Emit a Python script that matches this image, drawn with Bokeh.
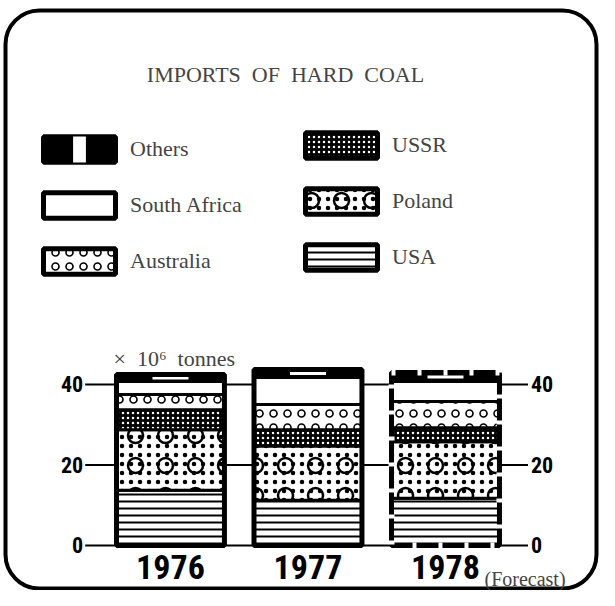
from bokeh.plotting import figure
from bokeh.models import (ColumnDataSource, Range1d, LinearAxis, FixedTicker, Legend,
                          LegendItem, Label, CDSView, BooleanFilter, BoxAnnotation)
from bokeh.transform import stack
from bokeh.embed import file_html
from bokeh.resources import INLINE

# ---------------- data (million tonnes) ----------------
years = ["1976", "1977", "1978"]
forecast = [False, False, True]
usa = [13.75, 11.25, 11.75]
poland = [15.0, 13.5, 14.0]
ussr = [5.0, 4.0, 3.5]
australia = [3.75, 6.25, 6.5]
south_africa = [3.25, 6.75, 5.0]
others = [1.75, 2.0, 2.25]
y_ticks = [0, 20, 40]
title_text = "IMPORTS\u2002OF\u2002HARD\u2002COAL"
unit_text = "\u00d7\u200210\u2076\u2002tonnes"
forecast_text = "(Forecast)"

layer_cols = ["usa", "poland", "ussr", "australia", "south_africa", "others"]
layer_names = {"usa": "USA", "poland": "Poland", "ussr": "USSR", "australia": "Australia",
               "south_africa": "South Africa", "others": "Others"}

# category slots: year i is centred at i + 0.5
xpos = [i + 0.5 for i in range(len(years))]
data = dict(x=xpos, year=years, usa=usa, poland=poland, ussr=ussr, australia=australia,
            south_africa=south_africa, others=others)
data["others_mid"] = [u + p + s + a + sa + o / 2 for u, p, s, a, sa, o in
                      zip(usa, poland, ussr, australia, south_africa, others)]
src = ColumnDataSource(data)

SERIF = "Liberation Serif"
NARROW = "Roboto Condensed"

LEFT_PAD = 0.62      # side scales' distance from the outer bar centres (slot units)
RIGHT_PAD = 0.60
W = 0.785            # bar width (slot units)

p = figure(x_range=Range1d(-0.736, 3.62), y_range=Range1d(-11.18, 135.4),
           width=599, height=590, output_backend="svg", toolbar_location=None,
           min_border=0, min_border_left=0, min_border_right=0,
           min_border_top=0, min_border_bottom=0,
           x_axis_location=None, y_axis_location=None)
p.background_fill_color = "white"
p.border_fill_color = "white"
p.outline_line_color = None
p.grid.grid_line_color = None

left_loc = xpos[0] - LEFT_PAD
right_loc = xpos[-1] + RIGHT_PAD

def style_axis(ax, size, standoff):
    ax.axis_line_color = None
    ax.major_tick_line_color = None
    ax.minor_tick_line_color = None
    ax.major_tick_out = 0
    ax.major_tick_in = 0
    ax.major_label_text_font = NARROW
    ax.major_label_text_font_style = "bold"
    ax.major_label_text_font_size = size
    ax.major_label_standoff = standoff
    ax.major_label_text_color = "black"

left_axis = LinearAxis(ticker=FixedTicker(ticks=y_ticks), fixed_location=left_loc)
style_axis(left_axis, "22px", 2)
p.add_layout(left_axis, "left")
right_axis = LinearAxis(ticker=FixedTicker(ticks=y_ticks), fixed_location=right_loc)
style_axis(right_axis, "22px", 3)
p.add_layout(right_axis, "right")
year_axis = LinearAxis(ticker=FixedTicker(ticks=xpos), fixed_location=0,
                       major_label_overrides={x: y for x, y in zip(xpos, years)})
style_axis(year_axis, "34px", 10)
p.add_layout(year_axis, "below")

# scale lines at the tick values (hidden behind the bars)
tick_src = ColumnDataSource(dict(y=y_ticks, x0=[left_loc] * len(y_ticks),
                                 x1=[right_loc] * len(y_ticks)))
p.segment(x0="x0", y0="y", x1="x1", y1="y", source=tick_src,
          line_color="black", line_width=2)

styles = {
    "usa": dict(fill_color="white", hatch_pattern="horizontal_line", hatch_color="black",
                hatch_scale=7, hatch_weight=2),
    "poland": dict(fill_color="white", hatch_pattern="ring", hatch_color="black",
                   hatch_scale=30, hatch_weight=2.5),
    "ussr": dict(fill_color="black", hatch_pattern="dot", hatch_color="white",
                 hatch_scale=5, hatch_weight=1.5),
    "australia": dict(fill_color="white", hatch_pattern="ring", hatch_color="black",
                      hatch_scale=14, hatch_weight=1.6),
    "south_africa": dict(fill_color="white"),
    "others": dict(fill_color="black"),
}

renderers = {}
for i, col in enumerate(layer_cols):
    bottom = stack(*layer_cols[:i]) if i else 0
    top = stack(*layer_cols[:i + 1])
    r = p.vbar(x="x", width=W, bottom=bottom, top=top, source=src,
               line_color="black", line_width=3, **styles[col])
    renderers[col] = [r]
    if col == "poland":
        r2 = p.vbar(x="x", width=W, bottom=bottom, top=top, source=src,
                    fill_alpha=0, line_color=None, hatch_pattern="dot",
                    hatch_color="black", hatch_scale=9, hatch_weight=1)
        renderers[col].append(r2)

# white slit in the "Others" band
p.scatter(x="x", y="others_mid", source=src, marker="dash", size=36,
          line_color="white", line_width=3)

# heavy outline of each bar; broken outline for the forecast year
fc_view = CDSView(filter=BooleanFilter(forecast))
outline = p.vbar(x="x", width=W, bottom=0, top=stack(*layer_cols), source=src,
                 fill_color=None, line_color="black", line_width=5)
p.vbar(x="x", width=W, bottom=0, top=stack(*layer_cols), source=src, view=fc_view,
       fill_color=None, line_color="white", line_width=6, line_dash="4 22")

# upright white bar used only in the "Others" legend key (short, very thick dash)
key_bar = p.scatter(x="x", y="others_mid", source=src, marker="dash",
                    size=10, line_color="white", line_width=26, line_cap="butt",
                    visible=False)

# legends (two columns)
extra = {"others": [key_bar]}

def make_legend(cols, x, y):
    items = [LegendItem(label=layer_names[c],
                        renderers=renderers[c] + [outline] + extra.get(c, []))
             for c in cols]
    lg = Legend(items=items, location=(x, y), orientation="vertical",
                glyph_width=90, glyph_height=32, label_height=32, spacing=24,
                label_standoff=6, padding=0, margin=0,
                label_text_font=SERIF, label_text_font_size="22px",
                background_fill_alpha=0, border_line_color=None)
    p.add_layout(lg, "center")

make_legend(["others", "south_africa", "australia"], 34, 313)
make_legend(["ussr", "poland", "usa"], 296, 317)

# rounded frame around the whole picture
p.add_layout(BoxAnnotation(left=5, right=596, bottom=2, top=580,
                           left_units="screen", right_units="screen",
                           bottom_units="screen", top_units="screen",
                           fill_color=None, fill_alpha=0, line_color="black",
                           line_alpha=1, line_width=4, border_radius=34))

# texts
p.add_layout(Label(x=285, y=516, x_units="screen", y_units="screen", text=title_text,
                   text_align="center", text_baseline="alphabetic",
                   text_font=SERIF, text_font_size="22px"))
p.add_layout(Label(x=113, y=232, x_units="screen", y_units="screen", text=unit_text,
                   text_align="left", text_baseline="alphabetic",
                   text_font=SERIF, text_font_size="22px"))
p.add_layout(Label(x=484, y=12, x_units="screen", y_units="screen", text=forecast_text,
                   text_align="left", text_baseline="alphabetic",
                   text_font=SERIF, text_font_size="20px"))

open("out.html", "w").write(file_html(p, INLINE))
